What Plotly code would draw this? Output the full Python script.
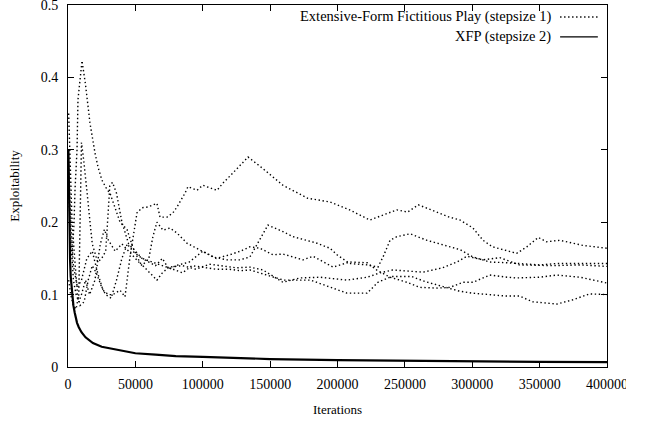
import plotly.graph_objects as go

# ---- data (iterations, exploitability) ----
efp_run_a = [(500, 0.28), (2000, 0.2), (4000, 0.14), (7000, 0.11), (10000, 0.12), (14000, 0.15), (18000, 0.16),
             (22000, 0.13), (26000, 0.106), (30000, 0.1), (33400, 0.1), (38600, 0.106), (42300, 0.097),
             (43800, 0.12), (46000, 0.152), (51200, 0.213), (54900, 0.22), (59400, 0.221), (66000, 0.226),
             (68300, 0.207), (73500, 0.207), (77900, 0.213), (80900, 0.221), (86800, 0.24), (89000, 0.249),
             (95700, 0.244), (100000, 0.251), (110600, 0.244), (115000, 0.254), (122400, 0.268), (133600, 0.29),
             (144000, 0.275), (159500, 0.251), (178000, 0.233), (194400, 0.228), (209000, 0.217), (224000, 0.203),
             (244000, 0.217), (252000, 0.214), (260000, 0.224), (274000, 0.214), (283000, 0.207), (291000, 0.203),
             (300500, 0.192), (308000, 0.175), (315000, 0.166), (333000, 0.157), (340500, 0.166), (349000, 0.179),
             (355000, 0.173), (365000, 0.175), (382000, 0.168), (400000, 0.164)]

efp_run_b = [(500, 0.25), (2000, 0.18), (4000, 0.12), (6000, 0.1), (8000, 0.09), (10000, 0.1), (13000, 0.12),
             (16000, 0.1), (20000, 0.12), (24000, 0.17), (27000, 0.19), (30000, 0.175), (35000, 0.16),
             (40000, 0.17), (45000, 0.16), (50000, 0.15), (55000, 0.14), (60000, 0.15), (63000, 0.18),
             (66000, 0.2), (70500, 0.189), (75700, 0.192), (80900, 0.185), (88300, 0.171), (98000, 0.162),
             (107600, 0.152), (118000, 0.148), (127600, 0.148), (135000, 0.152), (148400, 0.196), (159500, 0.187),
             (167000, 0.18), (184800, 0.171), (194400, 0.164), (199600, 0.155), (209000, 0.143), (222000, 0.141),
             (230000, 0.138), (233800, 0.152), (239000, 0.175), (244000, 0.18), (253800, 0.184), (266400, 0.175),
             (283500, 0.166), (291000, 0.162), (300500, 0.152), (313000, 0.145), (325800, 0.144), (350000, 0.141),
             (363000, 0.143), (380000, 0.143), (400000, 0.143)]

efp_run_c = [(500, 0.12), (2000, 0.1), (4000, 0.085), (6000, 0.08), (8000, 0.1), (10000, 0.31), (12000, 0.28),
             (15000, 0.22), (18000, 0.17), (22000, 0.145), (25000, 0.15), (28000, 0.16), (31000, 0.25),
             (33000, 0.255), (36000, 0.24), (40000, 0.2), (45000, 0.17), (50000, 0.16), (55000, 0.15),
             (60000, 0.145), (65000, 0.14), (70000, 0.15), (75000, 0.135), (80000, 0.14), (90000, 0.145),
             (100000, 0.16), (110000, 0.15), (120000, 0.155), (128000, 0.16), (135000, 0.166), (142500, 0.164),
             (152000, 0.155), (159500, 0.156), (174400, 0.148), (181800, 0.153), (196700, 0.138), (209000, 0.145),
             (222000, 0.144), (229000, 0.134), (239000, 0.124), (251500, 0.117), (261000, 0.11), (274000, 0.109),
             (283500, 0.11), (293000, 0.117), (300500, 0.117), (313000, 0.127), (325800, 0.124), (333000, 0.123),
             (350000, 0.124), (363000, 0.127), (380000, 0.124), (400000, 0.116)]

efp_run_d = [(500, 0.3), (1500, 0.18), (3000, 0.15), (4500, 0.2), (5200, 0.245), (6700, 0.3), (7400, 0.369),
             (10400, 0.423), (13000, 0.39), (16300, 0.337), (20000, 0.296), (22300, 0.276), (25200, 0.258),
             (29000, 0.245), (31200, 0.24), (34900, 0.22), (38600, 0.2), (43800, 0.19), (48000, 0.166),
             (53400, 0.144), (61000, 0.13), (66000, 0.12), (70000, 0.13), (75000, 0.138), (85000, 0.14),
             (95000, 0.135), (105000, 0.142), (115000, 0.14), (125000, 0.137), (135000, 0.138), (144700, 0.134),
             (159500, 0.117), (172000, 0.123), (187000, 0.124), (207000, 0.12), (222000, 0.124), (231500, 0.13),
             (241000, 0.134), (263500, 0.131), (278000, 0.137), (288700, 0.145), (296000, 0.153), (308000, 0.148),
             (320500, 0.151), (335000, 0.141), (360000, 0.14), (380000, 0.141), (400000, 0.139)]

efp_run_e = [(500, 0.35), (1500, 0.3), (3000, 0.2), (5000, 0.15), (7000, 0.1), (9000, 0.085), (12000, 0.09),
             (15000, 0.12), (18000, 0.14), (21000, 0.13), (25000, 0.11), (28000, 0.1), (32000, 0.095),
             (36000, 0.12), (40000, 0.15), (44000, 0.17), (48000, 0.16), (55000, 0.15), (62000, 0.145),
             (70000, 0.14), (78000, 0.135), (85000, 0.13), (92000, 0.14), (100000, 0.138), (110000, 0.135),
             (120000, 0.135), (128000, 0.133), (135000, 0.134), (160000, 0.12), (180000, 0.12), (190000, 0.113),
             (207000, 0.102), (222000, 0.102), (230000, 0.117), (240000, 0.125), (255000, 0.125), (265000, 0.118),
             (276000, 0.112), (290000, 0.105), (300000, 0.102), (325000, 0.098), (335000, 0.098), (345000, 0.09),
             (363000, 0.087), (375000, 0.093), (387000, 0.101), (400000, 0.1)]

xfp_run = [(300, 0.30), (600, 0.24), (1000, 0.19), (1500, 0.15), (2000, 0.125), (3000, 0.1), (4000, 0.085),
           (5000, 0.075), (6700, 0.061), (8000, 0.055), (10000, 0.048), (13000, 0.041), (18500, 0.033),
           (25000, 0.028), (30000, 0.026), (40000, 0.022), (50000, 0.019), (65000, 0.017), (80000, 0.015),
           (100000, 0.014), (125000, 0.012), (150000, 0.011), (200000, 0.0095), (250000, 0.0085),
           (300000, 0.0078), (350000, 0.0072), (400000, 0.0067)]

efp_runs = [efp_run_a, efp_run_b, efp_run_c, efp_run_d, efp_run_e]
x_ticks = [0, 50000, 100000, 150000, 200000, 250000, 300000, 350000, 400000]
y_ticks = [0, 0.1, 0.2, 0.3, 0.4, 0.5]
y_tick_text = ["0", "0.1", "0.2", "0.3", "0.4", "0.5"]
legend_labels = ["Extensive-Form Fictitious Play (stepsize 1)", "XFP (stepsize 2)"]

FONT = "Liberation Serif"
DOT = "1.4px,2.6px"

fig = go.Figure()
for run in efp_runs:
    xs, ys = zip(*run)
    fig.add_trace(go.Scatter(x=list(xs), y=list(ys), mode="lines",
                             line=dict(color="black", width=1.4, dash=DOT),
                             showlegend=False, hoverinfo="skip"))
xs, ys = zip(*xfp_run)
fig.add_trace(go.Scatter(x=list(xs), y=list(ys), mode="lines",
                         line=dict(color="black", width=2.2), showlegend=False, hoverinfo="skip"))

# gnuplot-style legend: text right-aligned, sample line to the right
fig.add_annotation(xref="paper", yref="paper", x=0.9, y=0.967, text=legend_labels[0], showarrow=False,
                   xanchor="right", yanchor="middle", font=dict(family=FONT, size=14.5, color="black"))
fig.add_annotation(xref="paper", yref="paper", x=0.9, y=0.912, text=legend_labels[1], showarrow=False,
                   xanchor="right", yanchor="middle", font=dict(family=FONT, size=14.5, color="black"))
fig.add_shape(type="line", xref="paper", yref="paper", x0=0.913, x1=0.983, y0=0.967, y1=0.967,
              line=dict(color="black", width=1.4, dash=DOT))
fig.add_shape(type="line", xref="paper", yref="paper", x0=0.913, x1=0.983, y0=0.912, y1=0.912,
              line=dict(color="black", width=1.4))

axis_common = dict(showline=True, linecolor="black", linewidth=1, mirror="ticks", ticks="inside",
                   ticklen=6, tickcolor="black", tickwidth=1, showgrid=False, zeroline=False,
                   ticklabeloverflow="allow", automargin=False,
                   tickfont=dict(family=FONT, size=14, color="black"))

fig.update_xaxes(range=[0, 400000], tickvals=x_ticks, tickformat="d",
                 title=dict(text="Iterations", font=dict(family=FONT, size=13, color="black"), standoff=14),
                 ticklabelstandoff=4, **axis_common)
fig.update_yaxes(range=[0, 0.5], tickvals=y_ticks, ticktext=y_tick_text,
                 title=dict(text="Exploitability", font=dict(family=FONT, size=13, color="black"), standoff=18),
                 ticklabelstandoff=6, **axis_common)

fig.update_layout(width=626, height=423, margin=dict(l=68, r=19, t=5, b=56, autoexpand=False),
                  font=dict(family=FONT),
                  plot_bgcolor="white", paper_bgcolor="white", showlegend=False)

fig.write_html("out.html", config={"displayModeBar": False, "staticPlot": True},
               post_script="document.body.style.margin='0px';")
